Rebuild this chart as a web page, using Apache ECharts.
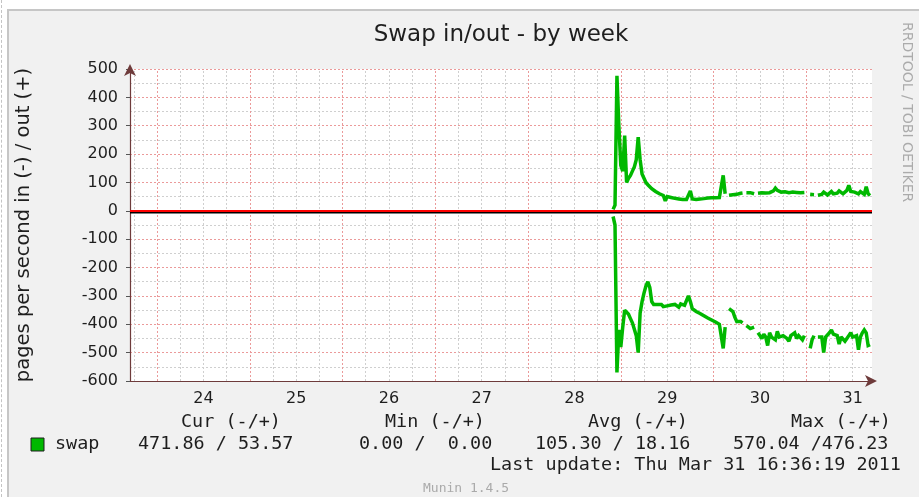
<!DOCTYPE html>
<html>
<head>
<meta charset="utf-8">
<script src="https://cdn.jsdelivr.net/npm/echarts@6/dist/echarts.min.js"></script>
<style>
  html, body { margin: 0; padding: 0; background: #ffffff; }
  #page { position: relative; width: 919px; height: 497px; overflow: hidden; }
  #rule { position: absolute; left: 1px; top: 0; width: 0; height: 497px; border-left: 1px dashed #c4c4c4; }
  #frame { position: absolute; left: 7px; top: 9px; right: 0; bottom: 0;
           background: #f1f1f1; border-left: 2px solid #c6c6c6; border-top: 2px solid #c6c6c6; }
  #chart { position: absolute; left: 0; top: 0; width: 919px; height: 497px; }
</style>
</head>
<body>
<div id="page">
  <div id="rule"></div>
  <div id="frame"></div>
  <div id="chart"></div>
</div>
<script>
// Time axis is measured in hours from Mar 24 00:00; the window covers 8 days.
const axisStartHour = -7;
const axisEndHour = 185;
const dayLabels = ['24', '25', '26', '27', '28', '29', '30', '31'];
const dayNoonHours = [12, 36, 60, 84, 108, 132, 156, 180];
const yTicks = { min: -600, max: 500, step: 100 };

// Half-hourly samples starting Mar 28 22:00 (hour 118); null = no data.
const sampleStartHour = 118;
const sampleStepHours = 0.5;

// pages/s swapped out (+)
const swapOut = [
  5, 20, 476, 300, 160, 140, 265, 100, 115, 125,        // 118.0 - 122.5
  140, 155, 180, 260, 180, 130, 115, 100, 92, 85,       // 123.0 - 127.5
  78, 72, 68, 63, 60, 57, 54, 35, 50, 48,               // 128.0 - 132.5
  47, 45, 44, 43, 42, 41, 40, 40, 40, 42,               // 133.0 - 137.5
  70, 42, 40, 40, 41, 42, 43, 43, 44, 45,               // 138.0 - 142.5
  45, 46, 46, 46, 47, 47, 48, 125, 60, null,            // 143.0 - 147.5
  55, 58, 57, 60, 58, 60, 62, 63, null, 64,             // 148.0 - 152.5
  65, 64, 62, 60, null, 62, 63, 64, 65, 63,             // 153.0 - 157.5
  66, 64, 68, 70, 80, 72, 68, 66, 65, 67,               // 158.0 - 162.5
  66, 64, 65, 66, 64, 65, 66, 64, 63, 65,               // 163.0 - 167.5
  null, null, 58, 60, 57, null, 55, 62, 58, 66,         // 168.0 - 172.5
  60, 56, 63, 68, 60, 65, 62, 70, 64, 60,               // 173.0 - 177.5
  66, 72, 90, 68, 62, 66, 64, 60, 68, 62,               // 178.0 - 182.5
  58, 85, 60, 54                                        // 183.0 - 184.5
];

// pages/s swapped in (-), drawn below zero
const swapIn = [
  20, 50, 570, 420, 480, 410, 350, 355, 365, 380,       // 118.0 - 122.5
  395, 400, 440, 500, 360, 320, 290, 265, 250, 270,     // 123.0 - 127.5
  320, 330, 335, 330, 335, 330, 338, 332, 335, 340,     // 128.0 - 132.5
  332, 336, 330, 335, 340, 328, 335, 333, 338, 300,     // 133.0 - 137.5
  320, 345, 350, 355, 360, 362, 365, 370, 372, 378,     // 138.0 - 142.5
  380, 385, 388, 392, 395, 400, 405, 485, 410, null,    // 143.0 - 147.5
  345, 340, 355, 375, 390, 395, 390, 395, null, 405,    // 148.0 - 152.5
  410, 415, 420, 410, null, 430, 440, 450, 435, 445,    // 153.0 - 157.5
  475, 430, 445, 440, 455, 425, 445, 450, 440, 435,     // 158.0 - 162.5
  450, 460, 440, 445, 430, 450, 440, 445, 455, 440,     // 163.0 - 167.5
  null, null, 485, 455, 440, null, 445, 440, 445, 500,  // 168.0 - 172.5
  445, 440, 430, 420, 435, 430, 440, 470, 445, 440,     // 173.0 - 177.5
  460, 450, 440, 430, 445, 450, 440, 490, 445, 430,     // 178.0 - 182.5
  420, 430, 475, 472                                    // 183.0 - 184.5
];

const legendHeaders = ['Cur (-/+)', 'Min (-/+)', 'Avg (-/+)', 'Max (-/+)'];
const legendValues = ['471.86 / 53.57', '0.00 /  0.00', '105.30 / 18.16', '570.04 /476.23'];
const lastUpdate = 'Last update: Thu Mar 31 16:36:19 2011';

const FONT = 'DejaVu Sans, Liberation Sans, sans-serif';
const MONO = 'DejaVu Sans Mono, Liberation Mono, monospace';
const lineGreen = '#00b800';

function toPairs(values, sign) {
  return values.map((v, i) => [sampleStartHour + i * sampleStepHours, v == null ? '-' : sign * v]);
}

// Vertical grid: red at midnight, grey every 6 hours in between.
const gridLines = [];
for (let h = Math.ceil(axisStartHour / 6) * 6; h < axisEndHour; h += 6) {
  if (h <= axisStartHour) continue;
  const major = h % 24 === 0;
  gridLines.push({
    xAxis: h,
    lineStyle: major
      ? { color: '#eb9a9a', width: 1, type: [2, 2] }
      : { color: '#cfcfcf', width: 1, type: [2, 2] }
  });
}

const chart = echarts.init(document.getElementById('chart'), null, { renderer: 'canvas' });

const monoText = (x, y, text, align) => ({
  type: 'text', x: x, y: y, scaleX: 1.085, silent: true,
  style: { text: text, font: '17px ' + MONO, fill: '#1e1e1e', textAlign: align || 'left', textVerticalAlign: 'middle' }
});

const seriesLine = { color: lineGreen, width: 3.5, join: 'miter', miterLimit: 2 };

chart.setOption({
  animation: false,
  backgroundColor: 'transparent',
  grid: { left: 130, right: 47, top: 69, bottom: 116, show: true, backgroundColor: '#ffffff', borderWidth: 0 },
  xAxis: {
    type: 'value',
    min: axisStartHour,
    max: axisEndHour,
    axisLine: { onZero: false, lineStyle: { color: '#6e3b3b', width: 1.2 }, symbol: ['none', 'arrow'], symbolSize: [9, 12], symbolOffset: [0, 5] },
    axisTick: { show: false },
    splitLine: { show: false },
    axisLabel: {
      customValues: dayNoonHours,
      formatter: v => dayLabels[dayNoonHours.indexOf(v)] || '',
      color: '#1e1e1e', fontFamily: FONT, fontSize: 16, margin: 10
    }
  },
  yAxis: {
    type: 'value',
    min: yTicks.min,
    max: yTicks.max,
    interval: yTicks.step,
    name: 'pages per second in (-) / out (+)',
    nameLocation: 'middle',
    nameGap: 96,
    nameTextStyle: { color: '#1e1e1e', fontFamily: FONT, fontSize: 19.5 },
    axisLine: { show: true, onZero: false, lineStyle: { color: '#6e3b3b', width: 1.2 }, symbol: ['none', 'arrow'], symbolSize: [9, 12], symbolOffset: [0, 5] },
    axisTick: { show: true, length: 4, lineStyle: { color: '#555' } },
    axisLabel: { color: '#1e1e1e', fontFamily: FONT, fontSize: 16, margin: 12 },
    splitLine: { show: true, lineStyle: { color: '#eb9a9a', width: 1, type: [2, 2] } },
    minorTick: { show: false, splitNumber: 2 },
    minorSplitLine: { show: true, lineStyle: { color: '#cfcfcf', width: 1, type: [2, 2] } }
  },
  series: [
    {
      name: 'grid',
      type: 'line',
      data: [],
      silent: true,
      markLine: { silent: true, symbol: 'none', z: 1, label: { show: false }, animation: false, data: gridLines }
    },
    {
      name: 'swap out',
      type: 'line',
      z: 3,
      data: toPairs(swapOut, 1),
      showSymbol: false,
      connectNulls: false,
      lineStyle: seriesLine
    },
    {
      name: 'swap in',
      type: 'line',
      z: 3,
      data: toPairs(swapIn, -1),
      showSymbol: false,
      connectNulls: false,
      lineStyle: seriesLine,
      markLine: {
        silent: true, symbol: 'none', z: 6, label: { show: false }, animation: false,
        data: [{ yAxis: 0, lineStyle: { color: '#ff0000', width: 2, type: 'solid', shadowColor: '#000000', shadowOffsetY: 1.6, shadowBlur: 0 } }]
      }
    }
  ],
  graphic: [
    { type: 'text', x: 501, y: 35, silent: true,
      style: { text: 'Swap in/out - by week', font: '23px ' + FONT, fill: '#1e1e1e', textAlign: 'center', textVerticalAlign: 'middle' } },
    { type: 'text', x: 907, y: 22, rotation: -Math.PI / 2, silent: true,
      style: { text: 'RRDTOOL / TOBI OETIKER', font: '14px ' + FONT, fill: '#ababab', textAlign: 'left', textVerticalAlign: 'middle' } },
    monoText(181, 423, legendHeaders[0]),
    monoText(385, 423, legendHeaders[1]),
    monoText(588, 423, legendHeaders[2]),
    monoText(791, 423, legendHeaders[3]),
    { type: 'rect', silent: true, shape: { x: 31, y: 438, width: 13, height: 13 },
      style: { fill: '#00b800', stroke: '#1e1e1e', lineWidth: 1 } },
    monoText(55, 445, 'swap'),
    monoText(138, 445, legendValues[0]),
    monoText(359, 445, legendValues[1]),
    monoText(535, 445, legendValues[2]),
    monoText(733, 445, legendValues[3]),
    monoText(490, 466, lastUpdate),
    { type: 'text', x: 423, y: 489, silent: true,
      style: { text: 'Munin 1.4.5', font: '13px ' + MONO, fill: '#aaaaaa', textAlign: 'left', textVerticalAlign: 'middle' } }
  ]
});
</script>
</body>
</html>
